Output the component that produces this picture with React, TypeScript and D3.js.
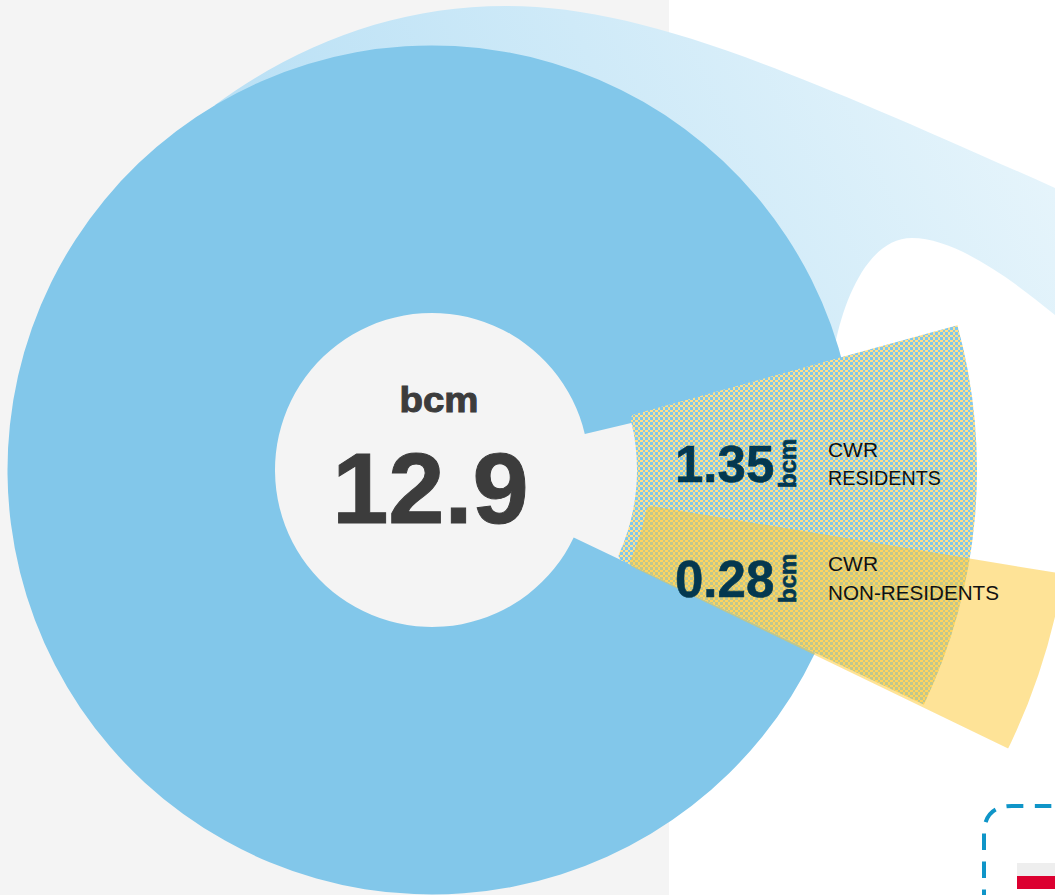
import React from "react";
import * as d3 from "d3";

const hubValue = "12.9";
const unit = "bcm";
const sectorNames = ["CWR RESIDENTS", "CWR NON-RESIDENTS"];
const sectorValues = ["1.35", "0.28"];
const sectorLabelLines = [["CWR", "RESIDENTS"], ["CWR", "NON-RESIDENTS"]];

const rad = (deg: number) => (deg * Math.PI) / 180;
const cx = 432, cy = 470;
// d3.arc angles: 0 at 12 o'clock, clockwise
const clock = (aboveHorizontalDeg: number) => rad(90 - aboveHorizontalDeg);

// main donut goes the long way round
const mainPath = d3.arc()({
  innerRadius: 157, outerRadius: 424.5,
  startAngle: clock(-25.5), endAngle: clock(13.3) + 2 * Math.PI,
} as any)!;

// Sector rounded only at its inner corners: a rounded arc reaching far out, cut by a sharp arc.
const sector = (inner: number, outer: number, a0: number, a1: number) => ({
  rounded: d3.arc().cornerRadius(5)({ innerRadius: inner, outerRadius: 2400, startAngle: clock(a0), endAngle: clock(a1) } as any)!,
  limit: d3.arc()({ innerRadius: inner - 5, outerRadius: outer, startAngle: clock(a0 + 1), endAngle: clock(a1 - 1) } as any)!,
});
const residents = sector(205, 545, 15.4, -25.5);
const nonResidents = sector(218, 640, -9.35, -25.8);

export default function App() {
  return (
    <svg width={1055} height={895} viewBox="0 0 1055 895"
      style={{ position: "absolute", left: 0, top: 0, display: "block" }}
      fontFamily="'Liberation Sans', Arial, sans-serif">
      <defs>
        <pattern id="check" x={0} y={0} width={5} height={5} patternUnits="userSpaceOnUse">
          <rect width={5} height={5} fill="#82c7ea" />
          <rect width={3} height={2} fill="#fee08c" />
          <rect x={3} y={2} width={2} height={3} fill="#fee08c" />
        </pattern>
        <clipPath id="resLimit"><path transform={`translate(${cx},${cy})`} d={residents.limit} /></clipPath>
        <clipPath id="resShape" clipPath="url(#resLimit)"><path transform={`translate(${cx},${cy})`} d={residents.rounded} /></clipPath>
        <clipPath id="nonLimit"><path transform={`translate(${cx},${cy})`} d={nonResidents.limit} /></clipPath>
        <linearGradient id="flow" gradientUnits="userSpaceOnUse" x1={215} y1={105} x2={852} y2={-214}>
          <stop offset="0" stopColor="#b9e0f5" />
          <stop offset="1" stopColor="#e5f4fb" />
        </linearGradient>
      </defs>
      <rect x={0} y={0} width={1055} height={895} fill="#ffffff" />
      <rect x={0} y={0} width={669} height={895} fill="#f4f4f4" />
      <path fill="url(#flow)"
        d="M215,105 C300,42 400,6 505,6 C640,6 780,65 1055,188 L1055,315 C1010,278 955,238 912,238 C870,238 845,295 835,345 Z" />
      <path transform={`translate(${cx},${cy})`} d={mainPath} fill="#82c7ea" />
      <g clipPath="url(#resShape)">
        <rect x={600} y={310} width={400} height={410} fill="url(#check)" />
      </g>
      <g clipPath="url(#nonLimit)">
        <path transform={`translate(${cx},${cy})`} d={nonResidents.rounded} fill="#fdc82f" fillOpacity={0.5} />
      </g>

      <text x={439} y={411.5} textAnchor="middle" fontSize={35} fontWeight={700} fill="#3c3c3c" stroke="#3c3c3c" strokeWidth={1} textLength={79} lengthAdjust="spacingAndGlyphs">{unit}</text>
      <text x={430.5} y={522.5} textAnchor="middle" fontSize={101} fontWeight={700} fill="#3c3c3c" stroke="#3c3c3c" strokeWidth={1}>{hubValue}</text>

      {sectorNames.map((name, i) => {
        const y = [482, 597][i];
        return (
          <g key={name}>
            <text x={675} y={y} fontSize={51} fontWeight={700} fill="#04384f" stroke="#04384f" strokeWidth={0.6}>{sectorValues[i]}</text>
            <text transform={`translate(796,${y + 6}) rotate(-90)`} fontSize={24} fontWeight={700} fill="#04384f" stroke="#04384f" strokeWidth={0.6}>{unit}</text>
            {sectorLabelLines[i].map((line, j) => (
              <text key={line} x={828} y={[457, 571][i] + j * [28, 29][i]} fontSize={20} fill="#111111" textLength={line.length > 3 ? (i === 0 ? 113 : 171) : 50} lengthAdjust="spacingAndGlyphs">{line}</text>
            ))}
          </g>
        );
      })}

      <path d="M984,895 L984,834 Q984,806 1012,806 L1055,806" fill="none" stroke="#0f95c8" strokeWidth={4} strokeDasharray="16.5 11.5" strokeDashoffset={11} />
      <rect x={1017} y={863} width={38} height={13} fill="#eeeeee" />
      <rect x={1017} y={876} width={38} height={13} fill="#dc0030" />
    </svg>
  );
}
